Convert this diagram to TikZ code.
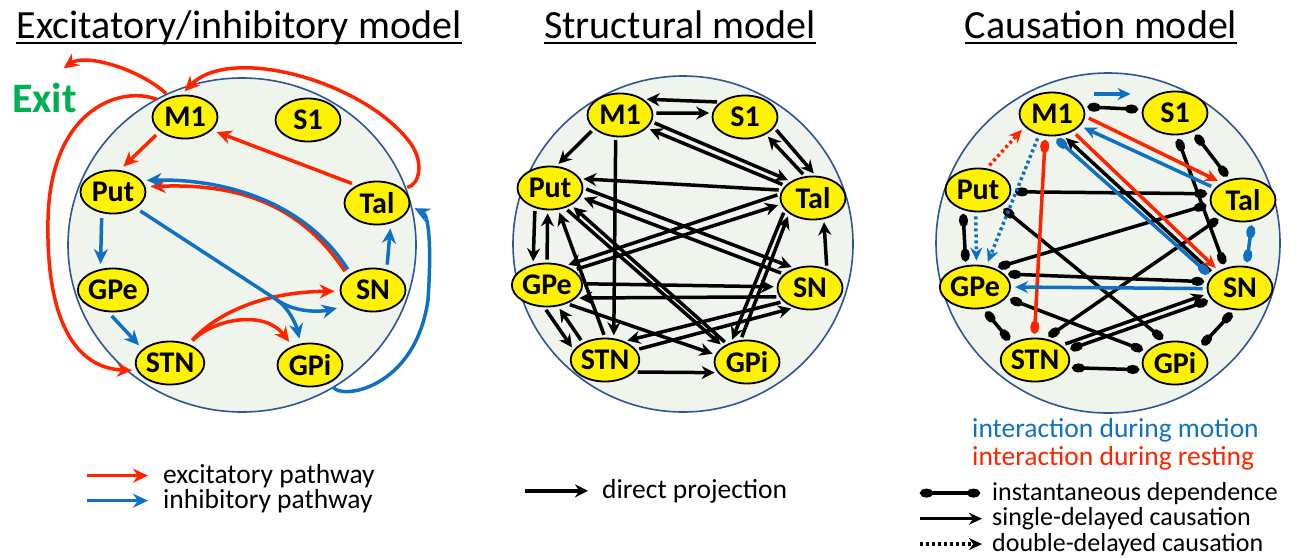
\documentclass[tikz,border=0pt]{standalone}
\usepackage{fontspec}
\setmainfont{Carlito}
\usetikzlibrary{arrows.meta,shapes.geometric}

\definecolor{excred}{RGB}{255,35,0}
\definecolor{inhblue}{RGB}{16,112,196}
\definecolor{exitgreen}{RGB}{0,176,80}
\definecolor{rimblue}{RGB}{47,85,151}
\definecolor{areafill}{RGB}{239,245,236}

\tikzset{
  brain/.style={draw=rimblue, line width=1.6pt, fill=areafill},
  region/.style={ellipse, draw=black, line width=1.8pt, fill=yellow, minimum width=65pt,
    minimum height=43pt, inner sep=0pt, font=\fontsize{30}{30}\selectfont\bfseries},
  heading/.style={anchor=base, inner sep=0pt, font=\fontsize{40}{40}\selectfont},
  legend/.style={anchor=base west, inner sep=0pt, font=\fontsize{27.5}{27.5}\selectfont},
  excite/.style={draw=excred, line width=3.5pt, -{Stealth[length=15pt,width=14pt]},
    shorten <=5pt, shorten >=5pt},
  inhibit/.style={excite, draw=inhblue},
  project/.style={draw=black, line width=3.5pt, -{Stealth[length=13pt,width=13pt]},
    shorten <=3pt, shorten >=3pt},
  cause/.style={line width=3.5pt, -{Stealth[length=13pt,width=12pt]}, shorten <=4pt, shorten >=4pt},
  instant/.style={line width=3.5pt, {Ellipse[length=13pt,width=9pt]}-{Ellipse[length=13pt,width=9pt]},
    shorten <=4pt, shorten >=4pt},
  twostep/.style={cause, dash pattern=on 3pt off 3pt},
}

\begin{document}
\begin{tikzpicture}[x=1pt,y=-1pt]
    \clip (0,0) rectangle (1316,557);
    % Titles
    \node[heading] (t1) at (239,38) {Excitatory/inhibitory model};
    \node[heading] (t2) at (680,38) {Structural model};
    \node[heading] (t3) at (1101,38) {Causation model};
    \foreach \t in {t1,t2,t3}
        \draw[line width=2pt] ([yshift=-5pt]\t.base west) -- ([yshift=-5pt]\t.base east);

    % Excitatory/inhibitory model
    \draw[brain] (242,245) ellipse [x radius=174, y radius=167];
    \node[region] (eM1) at (185,117) {M1};
    \node[region] (eS1) at (308,120) {S1};
    \node[region] (ePut) at (113,192) {Put};
    \node[region] (eTal) at (377,203) {Tal};
    \node[region] (eGPe) at (113,290) {GPe};
    \node[region] (eSN) at (373,290) {SN};
    \node[region] (eSTN) at (170,363) {STN};
    \node[region] (eGPi) at (310,365) {GPi};
    \node[anchor=base west, inner sep=0pt, text=exitgreen, font=\fontsize{42}{42}\selectfont\bfseries]
        (exit) at (12,112) {Exit};
    \draw[excite] (eM1.210) -- (ePut.73);
    \draw[excite] (eTal.139) -- (eM1.334);
    \draw[excite] (eSN.150) .. controls +(-45,-68) and +(97,-4) .. (ePut.9);
    \draw[inhibit] (eSN.144) .. controls +(-44,-70) and +(85,-2) .. (ePut.22);
    \draw[excite] (eM1.127) .. controls +(-32,-29) and +(25,-18) .. ([shift={(15,-11)}]exit.north);
    \draw[excite] (eM1.146) .. controls +(-42,-16) and (50,110) .. (48,220)
        .. controls (46,320) and (75,368) .. (eSTN.193);
    \draw[excite] (eTal.30) .. controls (420,185) and (425,160) .. (408,140)
        .. controls (360,80) and (230,45) .. (eM1.100);
    \draw[excite] (eSTN.45) .. controls (215,315) and (260,292) .. (eSN.182);
    \draw[excite] (eSTN.45) .. controls (215,318) and (265,310) .. (eGPi.133);
    \draw[inhibit] (ePut.242) -- (eGPe.121);
    \draw[inhibit] (eGPe.258) -- (eSTN.153);
    \draw[inhibit] (eSN.56) -- (eTal.304);
    \coordinate (split) at (277,300);
    \draw[inhibit] (ePut.325) -- (split) .. controls +(12,8) and +(-4,-18) .. (eGPi.114);
    \draw[inhibit, shorten <=0pt, shorten >=12pt] (split) .. controls +(20,14) and +(-25,6) .. (eSN.212);
    \draw[inhibit] (eGPi.320) .. controls (340,400) and (415,390) .. (428,300)
        .. controls (432,240) and (428,215) .. (eTal.355);
    % legend
    \node[legend] (lgexc) at (163,483) {excitatory pathway};
    \node[legend] (lginh) at (163,508) {inhibitory pathway};
    \coordinate (lgs) at (87,0);
    \draw[excite, shorten <=0pt, shorten >=15pt] (lgs |- lgexc.west) -- (lgexc.west);
    \draw[inhibit, shorten <=0pt, shorten >=15pt] (lgs |- lginh.west) -- (lginh.west);

    % Structural model
    \draw[brain] (683,244) ellipse [x radius=170, y radius=168];
    \node[region] (sM1) at (620,115) {M1};
    \node[region] (sS1) at (745,117) {S1};
    \node[region] (sPut) at (550,188) {Put};
    \node[region] (sTal) at (813,198) {Tal};
    \node[region] (sGPe) at (547,285) {GPe};
    \node[region] (sSN) at (810,288) {SN};
    \node[region] (sSTN) at (605,360) {STN};
    \node[region] (sGPi) at (747,362) {GPi};
    \foreach \a/\i/\b/\j in {sS1/149/sM1/34, sM1/3/sS1/173, sM1/208/sPut/74, sM1/348/sTal/143,
        sTal/156/sM1/334, sS1/340/sTal/83, sTal/110/sS1/320, sM1/259/sSTN/68, sTal/166/sPut/17,
        sTal/173/sGPe/46, sGPe/29/sTal/191, sPut/0/sSN/128, sSN/152/sPut/344, sGPi/138/sPut/321,
        sPut/307/sGPi/147, sSTN/90/sPut/291, sPut/233/sGPe/124, sGPe/90/sPut/264, sGPe/2/sSN/178,
        sSN/196/sGPe/336, sGPe/317/sGPi/167, sGPe/263/sSTN/162, sSTN/142/sGPe/297, sSTN/18/sSN/231,
        sSN/207/sSTN/44, sSTN/338/sGPi/200, sSN/49/sTal/297, sTal/203/sGPi/129, sGPi/106/sTal/213}
        \draw[project] (\a.\i) -- (\b.\j);
    % legend
    \node[legend] (lgproj) at (602,498) {direct projection};
    \coordinate (lgp) at (525,0);
    \draw[project, shorten <=0pt, shorten >=14pt] (lgp |- lgproj.west) -- (lgproj.west);

    % Causation model
    \draw[brain] (1108,243) ellipse [x radius=172, y radius=170];
    \node[region] (cM1) at (1052,114) {M1};
    \node[region] (cS1) at (1175,113) {S1};
    \node[region] (cPut) at (978,190) {Put};
    \node[region] (cTal) at (1243,200) {Tal};
    \node[region] (cGPe) at (975,287) {GPe};
    \node[region] (cSN) at (1240,288) {SN};
    \node[region] (cSTN) at (1035,360) {STN};
    \node[region] (cGPi) at (1175,363) {GPi};
    \foreach \a/\i/\b/\j in {cM1/13/cS1/174, cS1/274/cSN/126, cS1/314/cTal/123, cPut/357/cTal/169,
        cPut/324/cGPi/113, cTal/187/cGPe/44, cPut/233/cGPe/113, cGPe/24/cSN/169, cTal/218/cSTN/64,
        cGPe/341/cGPi/158, cGPe/291/cSTN/144, cSTN/17/cSN/202, cSTN/347/cGPi/192, cSN/256/cGPi/32}
        \draw[instant] (\a.\i) -- (\b.\j);
    \draw[cause] (cSN.152) -- (cM1.297);
    \draw[cause] (cSTN.29) -- (cSN.190);
    \draw[instant, draw=inhblue] (cM1.275) -- (cSN.158);
    \draw[instant, draw=inhblue] (cTal.293) -- (cSN.74);
    \draw[instant, draw=excred] (cM1.253) -- (cSTN.92);
    \draw[cause, draw=inhblue] (cTal.157) -- (cM1.337);
    \draw[cause, draw=inhblue] (cSN.181) -- (cGPe.0);
    \draw[cause, draw=inhblue, shorten <=0pt, shorten >=0pt]
        ([shift={(9,-20)}]cM1.east) -- ([shift={(-11,-19)}]cS1.west);
    \draw[cause, draw=excred] (cM1.356) -- (cTal.141);
    \draw[cause, draw=excred] (cM1.320) -- (cSN.141);
    \draw[twostep, draw=inhblue] (cPut.264) -- (cGPe.86);
    \draw[twostep, draw=inhblue] (cM1.238) -- (cGPe.62);
    \draw[twostep, draw=excred] (cPut.68) -- (cM1.205);
    % legend
    \node[legend, text=inhblue] (lgmot) at (972,437) {interaction during motion};
    \node[legend, text=excred] (lgrest) at (972,465) {interaction during resting};
    \node[legend, font=\fontsize{26}{26}\selectfont] (lgins) at (992,500) {instantaneous dependence};
    \node[legend, font=\fontsize{26}{26}\selectfont] (lgsgl) at (992,525.5) {single-delayed causation};
    \node[legend, font=\fontsize{26}{26}\selectfont] (lgdbl) at (992,551) {double-delayed causation};
    \coordinate (lgc) at (920,0);
    \draw[instant, shorten <=0pt, shorten >=12pt] (lgc |- lgins.west) -- (lgins.west);
    \draw[cause, shorten <=0pt, shorten >=10pt] (lgc |- lgsgl.west) -- (lgsgl.west);
    \draw[twostep, shorten <=0pt, shorten >=10pt] (lgc |- lgdbl.west) -- (lgdbl.west);
\end{tikzpicture}
\end{document}
